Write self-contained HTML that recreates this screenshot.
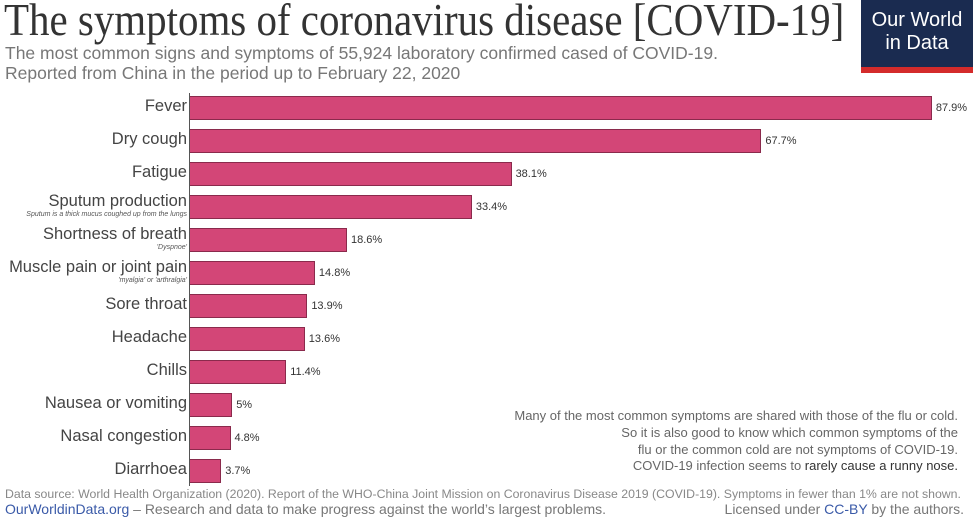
<!DOCTYPE html>
<html><head><style>
body{margin:0;width:974px;height:522px;background:#fff;position:relative;overflow:hidden;font-family:"Liberation Sans",sans-serif}
.a{position:absolute;white-space:nowrap}
.t{left:4px;top:-7px;font-family:"Liberation Serif",serif;font-size:46px;color:#333;transform:scaleX(0.89);transform-origin:0 0}
.s{left:5px;font-size:17.5px;color:#777}
.lb{right:787px;font-size:16.5px;color:#444;text-align:right}
.sb{right:787px;font-size:7px;color:#555;font-style:italic}
.bar{position:absolute;left:190px;height:24px;background:#d34677;border:1px solid #8a2a4c;border-left:none;box-sizing:border-box}
.v{font-size:11px;color:#333}
.n{font-size:13px;color:#666;text-align:right;right:16px}
</style></head><body>
<div class="a t">The symptoms of coronavirus disease [COVID-19]</div>
<div class="a s" style="top:43px">The most common signs and symptoms of 55,924 laboratory confirmed cased of COVID-19.</div>
<div class="a s" style="top:63px">Reported from China in the period up to February 22, 2020</div>
<div class="a" style="left:861px;top:0;width:112px;height:73px;background:#1a2b50"></div>
<div class="a" style="left:861px;top:67px;width:112px;height:6px;background:#d42b2b"></div>
<div class="a" style="left:861px;top:9px;width:112px;text-align:center;color:#fff;font-size:20px;line-height:23px">Our World<br>in Data</div>
<div class="a" style="left:189px;top:93px;width:1px;height:393px;background:#555"></div>
<div id="c"></div>
<div class="a n" style="top:407px;line-height:17px">Many of the most common symptoms are shared with those of the flu or cold.<br>So it is also good to know which common symptoms of the<br>flu or the common cold are not symptoms of COVID-19.</div>
<div class="a n" style="top:458px">COVID-19 infection seems to <span style="color:#333">rarely cause a runny nose.</span></div>
<div class="a" style="left:5px;top:487px;font-size:12.3px;color:#888">Data source: World Health Organization (2020). Report of the WHO-China Joint Mission on Coronavirus Disease 2019 (COVID-19). Symptoms in fewer than 1% are not shown.</div>
<div class="a" style="left:5px;top:501px;font-size:14px;color:#777"><span style="color:#3a5aa8">OurWorldinData.org</span> – Research and data to make progress against the world’s largest problems.</div>
<div class="a" style="right:10px;top:501px;font-size:14px;color:#777">Licensed under <span style="color:#3a5aa8">CC-BY</span> by the authors.</div>
<script>
var d=[["Fever",87.9],["Dry cough",67.7],["Fatigue",38.1],["Sputum production",33.4,"Sputum is a thick mucus coughed up from the lungs"],["Shortness of breath",18.6,"'Dyspnoe'"],["Muscle pain or joint pain",14.8,"'myalgia' or 'arthralgia'"],["Sore throat",13.9],["Headache",13.6],["Chills",11.4],["Nausea or vomiting",5],["Nasal congestion",4.8],["Diarrhoea",3.7]];
var h="";d.forEach(function(r,i){var y=96+33*i,w=r[1]*8.44;
h+='<div class="bar" style="top:'+y+'px;width:'+w+'px"></div>';
h+='<div class="a v" style="left:'+(194+w)+'px;top:'+(y+6)+'px">'+r[1]+'%</div>';
h+='<div class="a lb" style="top:'+(y+(r[2]?-3:1))+'px">'+r[0]+'</div>';
if(r[2])h+='<div class="a sb" style="top:'+(y+16)+'px">'+r[2]+'</div>';});
document.getElementById("c").innerHTML=h;
</script>
</body></html>
